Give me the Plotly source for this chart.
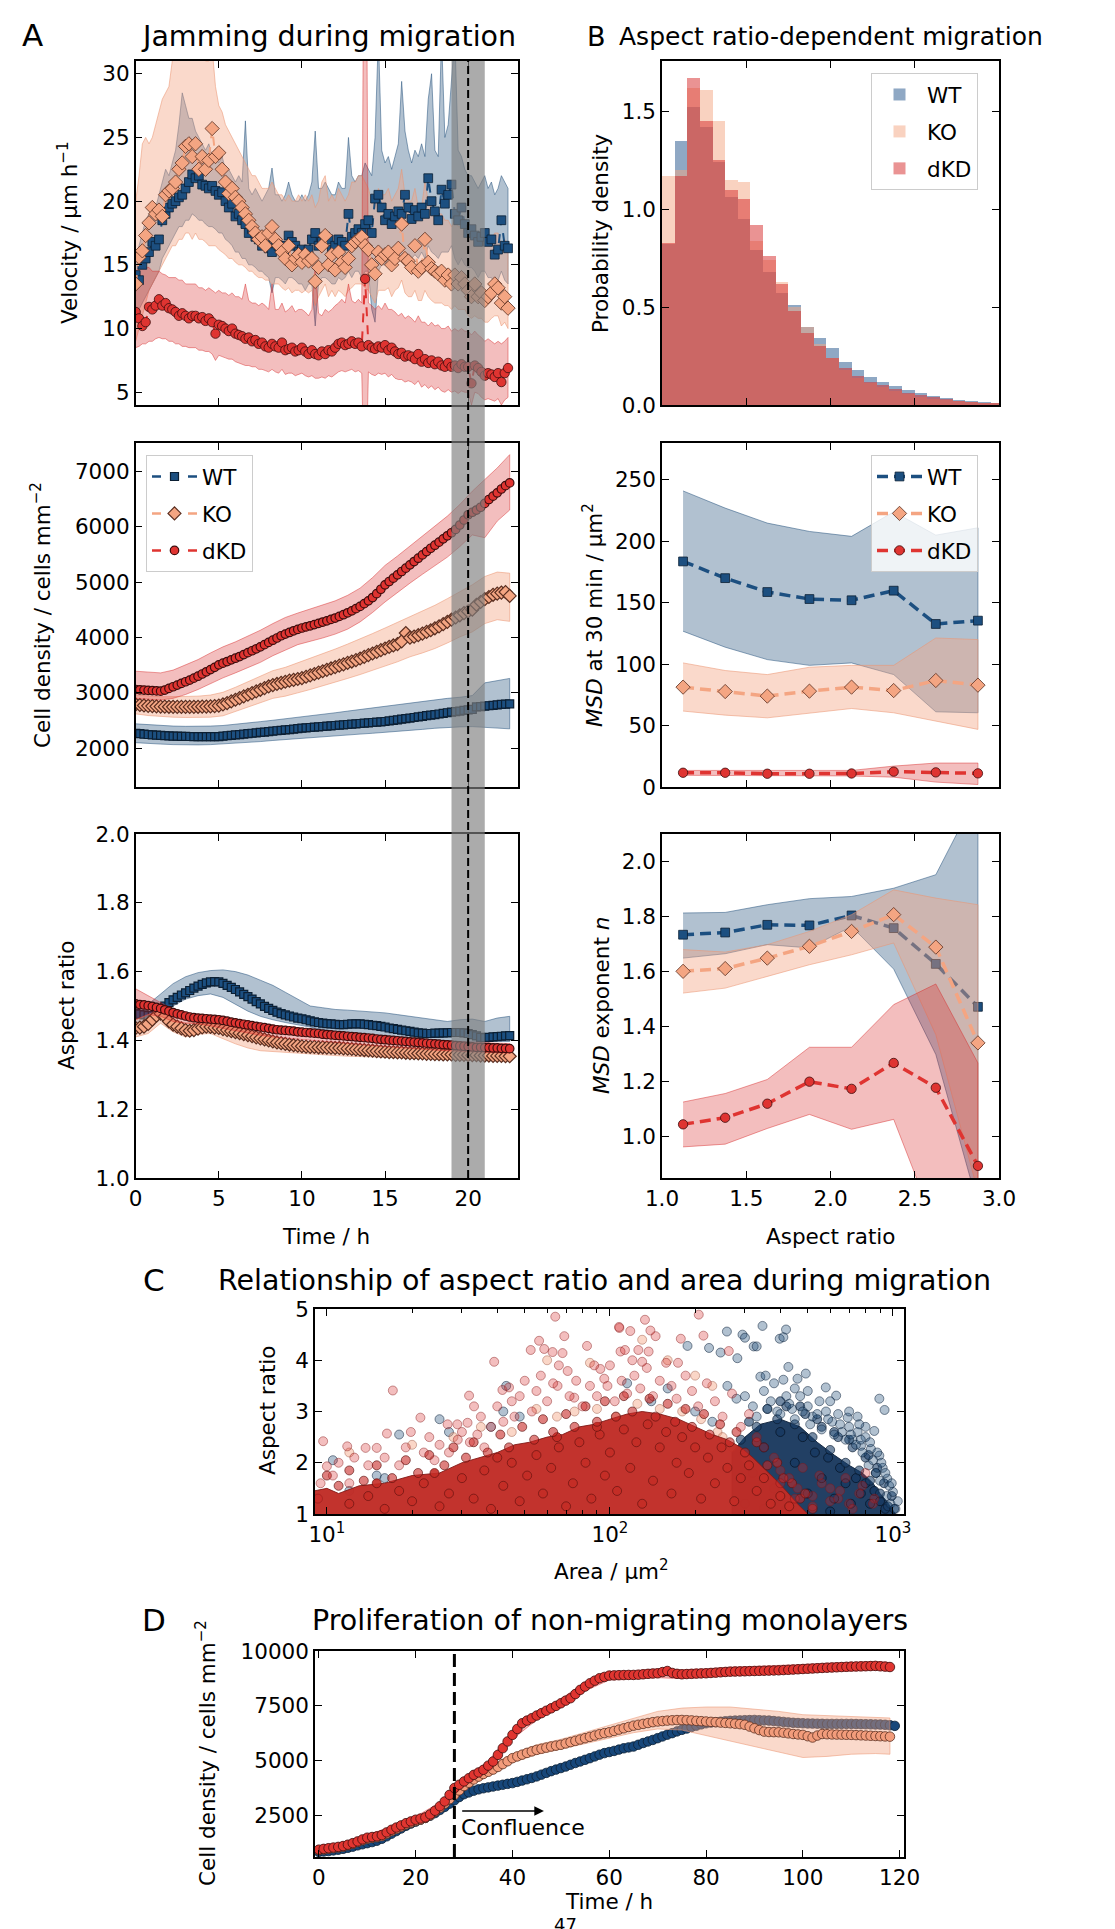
import plotly.graph_objects as go

# ======================= DATA =======================
# ---- Panel A: velocity (um/h), one value every 0.2 h ----
vel_wt = [14.2,13.8,15.0,15.5,16.0,16.8,16.5,17.0,18.5,19.0,
          19.5,19.8,20.0,20.3,20.5,21.0,21.5,22.1,21.8,22.0,
          21.3,21.2,21.0,21.2,20.8,20.5,20.7,20.0,19.5,19.8,
          18.8,19.0,18.5,18.2,17.5,17.8,17.2,17.0,16.5,16.8,
          16.3,16.0,16.8,16.5,16.5,16.2,17.3,16.8,16.5,16.0,
          16.2,15.8,16.2,17.0,17.5,16.5,16.8,17.2,17.0,16.2,
          16.5,17.0,16.8,16.5,19.0,17.2,17.5,17.8,17.5,18.2,
          18.5,17.5,20.2,20.5,19.5,18.5,19.0,18.2,18.8,19.2,
          19.0,20.5,19.5,18.6,19.3,18.8,19.5,19.0,21.8,20.0,
          19.2,18.5,20.9,19.8,20.5,21.3,19.0,18.5,19.5,18.2,
          17.5,17.8,17.3,16.8,17.2,17.5,16.8,17.0,15.8,16.2,
          18.5,16.5,16.3]
vel_wt_hi = [15.5,16.5,17.5,18.5,19.0,19.5,19.5,20.5,21.5,22.5,
             22.0,23.0,24.0,26.0,28.5,27.5,26.5,26.5,25.5,25.0,
             24.5,24.0,24.5,23.5,23.5,23.0,23.5,22.5,22.5,22.0,
             21.5,22.0,21.5,26.3,21.0,20.5,21.0,20.5,20.0,20.5,
             21.0,22.6,20.5,20.5,20.0,20.5,21.5,20.5,20.0,20.0,
             20.5,20.0,20.5,21.5,25.5,21.0,21.0,21.5,21.0,20.5,
             20.5,21.5,21.0,21.0,25.0,22.0,21.5,22.0,22.0,23.0,
             22.5,22.0,25.0,33.0,24.0,23.0,23.5,22.5,23.5,24.5,
             29.4,25.5,24.0,23.0,24.0,23.5,24.5,23.5,28.0,30.0,
             24.0,23.5,33.0,25.0,26.0,29.5,33.0,24.0,23.5,22.5,
             22.0,22.0,21.5,21.0,21.5,22.0,21.0,21.5,20.5,21.0,
             22.0,21.5,21.0]
vel_wt_lo = [11.0,11.5,12.0,12.5,13.0,13.5,14.0,14.5,15.5,16.0,
             16.5,17.0,17.5,18.0,18.0,18.5,18.5,19.0,18.8,18.5,
             18.5,18.2,18.0,18.0,17.8,17.5,17.5,17.0,16.8,16.5,
             16.0,16.0,15.5,15.5,15.0,15.0,14.8,14.5,14.5,14.2,
             14.0,12.8,14.0,14.0,13.8,13.5,14.0,14.0,13.8,13.5,
             13.5,13.0,13.5,13.5,10.2,13.5,14.0,14.0,13.8,13.5,
             13.5,14.0,13.8,14.0,14.5,14.0,14.5,14.5,14.0,14.5,
             14.5,11.5,10.5,14.5,15.0,15.0,15.5,15.0,15.5,15.5,
             15.8,16.0,15.5,15.5,15.8,15.5,16.0,15.5,16.5,16.0,
             15.8,15.5,16.0,16.0,16.0,16.5,15.5,15.0,15.5,15.0,
             14.8,14.8,14.5,14.0,14.5,14.5,14.0,14.0,13.5,13.8,
             14.5,13.8,13.5]
vel_ko = [13.5,15.6,16.1,17.3,18.3,19.5,19.0,19.3,18.8,20.5,
          20.8,21.0,21.5,22.5,23.0,24.3,24.5,23.5,24.5,22.5,
          23.5,22.5,23.2,25.7,23.5,23.8,22.5,21.5,20.6,21.0,
          20.3,20.0,19.5,19.0,18.5,18.0,17.5,17.0,17.2,16.5,
          17.5,18.0,17.0,16.5,16.0,15.5,16.5,15.0,15.5,15.8,
          15.2,15.8,15.3,15.5,13.7,14.8,16.5,17.3,15.0,15.8,
          14.6,16.0,15.2,14.8,15.5,16.5,16.8,17.0,17.2,16.5,
          16.2,15.0,14.3,16.0,15.5,15.8,16.0,15.0,15.5,16.3,
          18.2,15.5,15.3,14.8,16.5,14.5,14.8,17.0,15.2,14.7,
          14.5,14.3,14.5,13.8,14.2,13.5,14.2,13.5,14.0,13.5,
          13.0,12.5,13.5,12.5,12.8,12.2,12.5,12.8,13.5,13.2,
          12.0,12.5,11.6]
vel_ko_hi = [20.0,22.0,24.5,25.0,24.5,25.0,26.0,27.0,28.0,28.5,
             29.0,31.0,32.0,33.0,33.0,32.0,33.0,32.5,33.0,32.0,
             31.5,31.0,31.0,32.0,29.0,27.5,27.0,26.0,25.5,25.0,
             24.5,24.0,23.5,23.0,22.5,22.0,22.0,21.5,21.0,21.0,
             21.0,21.5,21.0,20.5,20.5,20.0,20.5,20.0,20.0,20.5,
             20.0,20.5,20.0,20.5,19.5,20.0,21.5,22.0,20.0,20.5,
             20.0,21.0,20.5,20.0,20.5,21.5,21.5,22.0,22.0,21.5,
             21.0,20.0,19.5,21.0,20.5,20.5,21.0,20.0,20.5,21.0,
             22.5,20.5,20.0,20.0,21.0,19.5,19.5,21.5,20.0,19.5,
             19.0,19.0,19.0,18.5,18.5,18.0,18.5,18.0,18.0,18.0,
             17.5,17.0,17.5,17.0,17.0,16.5,17.0,17.0,17.5,17.5,
             16.5,17.0,16.5]
vel_ko_lo = [9.0,10.0,11.0,12.0,13.0,13.5,14.0,14.5,15.0,15.5,
             16.0,16.5,16.5,17.0,17.0,17.5,17.5,17.0,17.5,17.0,
             17.0,16.8,16.5,16.5,16.5,16.2,16.0,15.8,15.5,15.5,
             15.2,15.0,15.0,14.8,14.5,14.5,14.2,14.0,14.0,13.8,
             13.8,13.5,13.5,13.5,13.2,13.0,13.2,12.8,13.0,13.0,
             12.8,13.0,12.8,13.0,11.8,12.5,13.0,13.5,12.5,13.0,
             12.5,13.0,12.8,12.5,13.0,13.2,13.5,13.5,13.5,13.2,
             13.0,12.5,12.0,13.0,13.0,13.0,13.2,12.5,13.0,13.2,
             13.8,12.8,12.5,12.5,13.0,12.2,12.2,13.0,12.5,12.2,
             12.0,12.0,12.0,11.8,11.8,11.5,11.8,11.5,11.5,11.5,
             11.0,10.8,11.0,10.8,10.8,10.5,10.5,10.8,11.0,11.0,
             10.2,10.5,10.0]
vel_dkd = [11.3,10.8,10.2,10.5,11.7,11.5,11.8,12.3,11.8,12.0,
           11.6,11.5,11.3,11.0,11.2,11.0,10.8,11.0,11.0,10.8,
           10.9,10.6,10.8,10.5,9.6,10.3,10.2,10.0,9.8,10.0,
           9.6,9.5,9.4,9.2,9.3,9.0,9.1,8.8,8.9,8.6,
           8.5,8.8,8.6,8.5,8.9,8.3,8.4,8.5,8.2,8.3,
           8.5,8.2,8.0,8.3,8.0,7.9,8.2,8.0,8.3,8.2,
           8.5,8.8,8.9,8.7,8.8,9.0,8.8,8.9,8.6,13.9,
           8.7,8.5,8.4,8.6,8.5,8.7,8.3,8.5,8.2,8.0,
           8.1,7.8,7.9,7.8,7.6,8.0,7.4,7.6,7.3,7.5,
           7.2,7.4,7.1,7.0,7.3,7.0,7.1,6.9,7.2,7.0,
           7.0,5.7,7.1,6.9,6.6,6.3,6.5,6.4,6.2,6.5,
           5.8,6.5,6.9]
vel_dkd_hi = [14.5,14.8,15.0,14.8,14.8,14.5,14.5,14.5,14.3,14.2,
              14.0,14.0,14.0,13.8,13.8,13.5,13.5,13.5,13.5,13.2,
              13.2,13.0,13.2,13.0,12.8,13.0,12.8,12.8,12.6,12.8,
              12.5,12.5,12.3,13.5,12.2,12.0,12.0,11.8,12.0,11.8,
              11.5,13.5,11.5,11.5,12.0,11.3,11.5,11.8,11.3,11.5,
              11.5,11.3,11.0,11.5,15.0,11.2,11.0,11.5,11.3,11.5,
              11.8,12.0,12.3,12.0,13.5,12.2,12.0,12.3,12.0,60.0,
              12.0,11.8,11.5,11.8,11.5,12.0,11.5,11.5,11.3,11.0,
              11.2,10.8,11.0,10.8,10.5,11.0,10.5,10.5,10.2,10.5,
              10.2,10.3,10.0,10.0,10.2,9.8,10.0,9.8,10.0,9.8,
              9.8,9.5,9.8,9.5,9.3,9.0,9.2,9.0,8.8,9.0,
              8.8,9.0,9.3]
vel_dkd_lo = [8.5,8.6,8.8,8.8,9.0,9.0,9.2,9.3,9.2,9.2,
              9.0,9.0,8.8,8.8,8.6,8.6,8.5,8.5,8.5,8.3,
              8.3,8.2,8.2,8.0,7.5,7.9,7.8,7.7,7.6,7.6,
              7.4,7.3,7.2,7.1,7.1,7.0,7.0,6.8,6.8,6.7,
              6.6,6.8,6.6,6.5,6.8,6.4,6.5,6.5,6.3,6.4,
              6.5,6.3,6.2,6.3,6.1,6.1,6.2,6.1,6.3,6.2,
              6.4,6.6,6.7,6.6,6.7,6.8,6.6,6.7,6.5,-5.0,
              6.6,6.4,6.3,6.5,6.4,6.5,6.2,6.4,6.1,6.0,
              6.0,5.8,5.9,5.8,5.6,5.9,5.4,5.6,5.3,5.5,
              5.2,5.4,5.1,5.0,5.2,5.0,5.1,4.9,5.1,5.0,
              5.0,4.0,5.0,4.9,4.6,4.4,4.5,4.4,4.3,4.5,
              4.0,4.4,4.6]

# ---- Panel A: cell density (cells/mm^2), every 0.25 h ----
den_wt = [2270,2262,2255,2248,2242,2236,2231,2227,2223,2220,
          2217,2215,2213,2212,2211,2210,2210,2210,2210,2210,
          2211,2218,2225,2232,2240,2247,2255,2262,2270,2277,
          2285,2292,2300,2307,2315,2322,2330,2337,2345,2352,
          2362,2368,2374,2380,2386,2392,2398,2404,2410,2416,
          2422,2428,2434,2440,2446,2452,2458,2464,2470,2476,
          2482,2492,2503,2513,2524,2534,2545,2555,2566,2576,
          2587,2597,2608,2618,2629,2640,2650,2661,2671,2682,
          2693,2700,2745,2752,2760,2767,2775,2782,2790,2796,
          2801]
den_ko = [2790,2780,2772,2765,2760,2756,2752,2750,2748,2747,
          2746,2746,2746,2746,2747,2748,2750,2752,2755,2760,
          2768,2790,2815,2845,2875,2905,2935,2965,2995,3025,
          3055,3085,3115,3140,3160,3180,3200,3220,3235,3250,
          3265,3290,3315,3340,3365,3390,3415,3440,3465,3490,
          3515,3540,3565,3590,3620,3650,3680,3710,3740,3770,
          3800,3830,3855,3880,3930,4080,3995,4015,4040,4070,
          4100,4130,4165,4200,4240,4280,4320,4360,4400,4440,
          4470,4500,4590,4640,4690,4730,4770,4790,4810,4820,
          4750]
den_dkd = [3060,3055,3050,3045,3040,3035,3030,3050,3080,3110,
           3140,3170,3200,3230,3265,3300,3340,3380,3420,3460,
           3505,3535,3565,3595,3625,3655,3690,3725,3760,3795,
           3830,3870,3910,3950,3990,4030,4060,4090,4120,4145,
           4170,4190,4210,4232,4255,4278,4300,4325,4350,4380,
           4410,4445,4480,4520,4560,4610,4660,4720,4790,4870,
           4950,5010,5070,5130,5190,5250,5310,5370,5430,5490,
           5550,5610,5665,5720,5780,5835,5890,5950,6030,6120,
           6215,6260,6300,6350,6420,6490,6550,6610,6680,6740,
           6790]
# density bands, every 0.75 h
den_wt_hi = [2440,2425,2410,2400,2395,2395,2400,2410,2430,2455,2480,2505,2530,2560,2590,2615,
             2640,2670,2700,2730,2760,2790,2820,2850,2880,2900,2920,2950,3180,3220,3260]
den_wt_lo = [2100,2090,2075,2065,2060,2060,2065,2075,2090,2105,2120,2140,2160,2180,2195,2210,
             2225,2240,2255,2270,2285,2300,2320,2340,2360,2375,2385,2390,2370,2360,2350]
den_ko_hi = [2960,2940,2930,2930,2935,2940,2960,3010,3100,3200,3300,3400,3460,3540,3620,3700,
             3790,3880,3970,4070,4170,4270,4380,4470,4580,4700,4830,4950,5100,5180,5160]
den_ko_lo = [2620,2590,2570,2560,2555,2555,2560,2585,2660,2740,2820,2900,2940,3000,3060,3120,
             3190,3260,3330,3400,3480,3560,3650,3720,3800,3900,4010,4100,4250,4320,4290]
den_dkd_hi = [3390,3370,3360,3410,3500,3600,3720,3830,3920,4020,4130,4250,4360,4440,4510,4580,
              4660,4760,4890,5080,5300,5470,5650,5830,6010,6190,6400,6640,6850,7060,7300]
den_dkd_lo = [2900,2880,2870,2900,2970,3060,3160,3270,3360,3450,3550,3670,3770,3870,3930,3990,
              4060,4150,4280,4450,4640,4810,4980,5140,5300,5450,5640,5850,5800,6100,6300]

# ---- Panel A: aspect ratio, every 0.25 h ----
ar_wt = [1.478,1.476,1.474,1.472,1.472,1.480,1.490,1.500,1.510,1.518,
         1.525,1.532,1.538,1.545,1.552,1.558,1.563,1.567,1.570,1.571,
         1.570,1.566,1.560,1.554,1.548,1.541,1.534,1.527,1.520,1.513,
         1.506,1.499,1.493,1.487,1.482,1.478,1.474,1.471,1.468,1.465,
         1.463,1.460,1.457,1.454,1.452,1.450,1.449,1.448,1.447,1.446,
         1.446,1.447,1.448,1.448,1.448,1.447,1.446,1.444,1.443,1.441,
         1.439,1.436,1.434,1.432,1.430,1.428,1.426,1.424,1.422,1.421,
         1.420,1.420,1.421,1.421,1.422,1.422,1.423,1.423,1.423,1.422,
         1.420,1.417,1.413,1.409,1.408,1.409,1.410,1.411,1.412,1.413,
         1.414]
ar_dkd = [1.506,1.504,1.503,1.501,1.499,1.496,1.493,1.489,1.485,1.481,
          1.477,1.474,1.471,1.468,1.466,1.465,1.464,1.463,1.462,1.461,
          1.460,1.458,1.456,1.453,1.451,1.449,1.447,1.445,1.443,1.441,
          1.439,1.437,1.435,1.433,1.431,1.430,1.429,1.428,1.427,1.425,
          1.424,1.423,1.422,1.421,1.420,1.418,1.417,1.416,1.415,1.414,
          1.413,1.412,1.411,1.410,1.409,1.408,1.407,1.406,1.404,1.403,
          1.402,1.401,1.400,1.399,1.398,1.397,1.396,1.395,1.394,1.393,
          1.392,1.391,1.390,1.389,1.388,1.387,1.386,1.385,1.384,1.383,
          1.382,1.381,1.380,1.380,1.379,1.379,1.378,1.378,1.377,1.377,
          1.376]
ar_ko = [1.436,1.437,1.440,1.448,1.460,1.472,1.478,1.470,1.455,1.446,
         1.440,1.435,1.430,1.428,1.430,1.434,1.438,1.440,1.439,1.437,
         1.436,1.433,1.430,1.427,1.424,1.421,1.418,1.415,1.412,1.409,
         1.406,1.403,1.400,1.397,1.394,1.392,1.390,1.388,1.386,1.385,
         1.383,1.382,1.381,1.381,1.380,1.380,1.379,1.379,1.378,1.378,
         1.377,1.376,1.375,1.374,1.373,1.372,1.371,1.370,1.369,1.368,
         1.367,1.366,1.366,1.365,1.365,1.364,1.363,1.363,1.362,1.362,
         1.361,1.361,1.360,1.360,1.359,1.359,1.359,1.358,1.358,1.358,
         1.357,1.357,1.357,1.356,1.356,1.356,1.355,1.355,1.355,1.354,
         1.354]
# aspect-ratio bands, every 0.75 h
ar_wt_hi = [1.494,1.505,1.535,1.565,1.585,1.597,1.603,1.605,1.600,1.590,1.575,1.560,1.540,1.520,1.500,1.495,
            1.490,1.488,1.486,1.484,1.480,1.475,1.470,1.465,1.458,1.455,1.460,1.462,1.455,1.465,1.470]
ar_wt_lo = [1.446,1.450,1.465,1.500,1.520,1.530,1.535,1.525,1.505,1.485,1.470,1.460,1.452,1.445,1.438,1.432,
            1.426,1.421,1.417,1.413,1.410,1.407,1.405,1.402,1.400,1.398,1.397,1.396,1.396,1.397,1.397]
ar_dkd_hi = [1.550,1.530,1.510,1.490,1.478,1.472,1.468,1.462,1.455,1.449,1.443,1.438,1.434,1.431,1.428,1.425,
             1.422,1.419,1.416,1.413,1.410,1.407,1.404,1.402,1.400,1.398,1.396,1.394,1.393,1.392,1.391]
ar_dkd_lo = [1.460,1.475,1.470,1.455,1.450,1.448,1.442,1.435,1.428,1.421,1.415,1.410,1.406,1.403,1.400,1.397,
             1.394,1.391,1.388,1.385,1.382,1.379,1.376,1.374,1.372,1.370,1.368,1.366,1.365,1.364,1.363]
ar_ko_hi = [1.460,1.475,1.490,1.462,1.450,1.455,1.452,1.440,1.425,1.412,1.402,1.396,1.392,1.389,1.387,1.385,
            1.383,1.381,1.379,1.377,1.375,1.373,1.372,1.371,1.370,1.369,1.368,1.367,1.366,1.365,1.364]
ar_ko_lo = [1.410,1.420,1.450,1.425,1.410,1.418,1.420,1.405,1.390,1.378,1.370,1.366,1.364,1.362,1.360,1.358,
            1.356,1.354,1.352,1.350,1.349,1.348,1.347,1.346,1.345,1.344,1.343,1.342,1.342,1.341,1.340]

# ---- Panel B: aspect-ratio histogram (probability density), bins of 0.075 from 1.0 ----
hist_wt = [0.82,1.35,1.52,1.42,1.24,1.06,0.95,0.79,0.68,0.57,0.51,0.40,0.34,0.29,0.22,0.18,
           0.145,0.12,0.095,0.075,0.06,0.045,0.035,0.028,0.02,0.015,0.01]
hist_ko = [1.17,1.20,1.62,1.61,1.45,1.15,1.14,0.84,0.74,0.63,0.50,0.40,0.31,0.24,0.18,0.14,
           0.11,0.09,0.07,0.055,0.04,0.03,0.025,0.02,0.015,0.01,0.008]
hist_dkd = [0.83,1.17,1.67,1.45,1.25,1.10,1.05,0.92,0.76,0.62,0.48,0.37,0.30,0.24,0.19,0.15,
            0.12,0.10,0.08,0.06,0.05,0.04,0.03,0.02,0.015,0.01,0.008]

# ---- Panel B: MSD vs aspect ratio ----
ar_centers = [1.125, 1.375, 1.625, 1.875, 2.125, 2.375, 2.625, 2.875]
msd_wt = [183.6,170.0,158.7,153.0,152.0,159.8,132.7,135.4]
msd_wt_hi = [241,227,214.8,208,204,224,205,211]
msd_wt_lo = [126.8,113.8,103.7,99,101,91.5,61.2,60.4]
msd_ko = [81.3,77.7,74.0,78.0,81.3,78.5,86.7,82.9]
msd_ko_hi = [101,94.8,91.5,97.5,99,99,121.3,120]
msd_ko_lo = [61.8,58.5,56.3,59.9,63.9,60.4,53.6,46.9]
msd_dkd = [11.6,11.6,10.8,10.8,11.0,12.5,11.9,11.1]
msd_dkd_hi = [13.5,13.5,13.0,13.0,13.5,17.0,19.5,19.5]
msd_dkd_lo = [9.5,9.5,9.0,9.0,9.0,8.0,4.0,2.0]

exp_wt = [1.734,1.742,1.770,1.768,1.804,1.758,1.628,1.472]
exp_wt_hi = [1.813,1.815,1.843,1.865,1.873,1.903,1.952,2.25]
exp_wt_lo = [1.649,1.665,1.698,1.686,1.764,1.609,1.299,0.75]
exp_ko = [1.601,1.611,1.649,1.692,1.746,1.807,1.689,1.341]
exp_ko_hi = [1.680,1.671,1.698,1.746,1.807,1.897,1.867,1.843]
exp_ko_lo = [1.522,1.540,1.583,1.625,1.661,1.704,1.371,0.80]
exp_dkd = [1.045,1.069,1.120,1.200,1.174,1.268,1.178,0.894]
exp_dkd_hi = [1.126,1.157,1.208,1.325,1.325,1.480,1.555,1.268]
exp_dkd_lo = [0.963,0.973,1.030,1.081,1.027,1.063,0.670,0.50]

# ---- Panel C: aspect ratio vs area ----
c_wt_core_area = [270,270,300,340,400,470,540,620,700,780,850,900,950,1000,1020]
c_wt_core_ar = [1.0,2.2,2.5,2.75,2.85,2.7,2.4,2.15,1.95,1.8,1.6,1.4,1.25,1.05,1.0]
c_dkd_core_area = [9.0,9.0,10,11,13,16,20,25,30,35,40,46,52,60,68,78,88,100,115,130,150,175,
                   200,230,260,290,320,350,380,420,460,500]
c_dkd_core_ar = [1.0,1.45,1.5,1.4,1.55,1.6,1.75,1.8,2.0,2.1,2.2,2.35,2.4,2.5,2.55,2.7,2.75,2.85,
                 2.95,3.0,2.95,2.85,2.7,2.55,2.45,2.3,2.1,1.9,1.7,1.45,1.2,1.0]
c_wt_inner_area = [300,320,350,380,400,420,450,480,500,530,560,590,620,650,680,710,740,770,800,
                   830,860,900,940,350,600]
c_wt_inner_ar = [1.2,1.8,2.3,1.5,2.6,1.1,2.0,2.5,1.4,2.2,1.7,2.1,1.3,1.9,1.6,1.2,1.7,1.4,1.6,
                 1.2,1.45,1.25,1.1,1.1,1.05]
c_wt_edge_area = [290,310,330,360,390,420,450,490,520,560,600,640,680,720,760,800,830,870,900,
                  930,960,990,1010,880,820,700,620,540,470,400]
c_wt_edge_ar = [2.45,2.8,2.7,3.05,2.85,3.1,2.75,2.95,2.5,2.7,2.25,2.5,2.0,2.3,1.85,2.1,1.65,1.8,
                1.4,1.6,1.15,1.35,1.1,1.9,2.15,2.45,2.6,2.85,3.1,3.2]
c_dkd_inner_area = [12,14,16,18,20,22,25,27,30,33,36,38,42,45,48,51,55,58,62,66,70,74,78,82,86,
                    92,96,100,106,112,118,124,130,136,142,150,158,165,172,180,190,200,210,222,
                    235,248,260,275,290,310,330,350,370,400,430,15,24,40,65,90]
c_dkd_inner_ar = [1.2,1.35,1.1,1.45,1.25,1.6,1.15,1.4,1.7,1.3,1.85,1.1,1.55,2.0,1.25,1.75,2.15,
                  1.4,1.9,2.3,1.15,1.6,2.4,2.0,1.3,2.55,1.75,2.2,1.45,2.65,1.9,2.4,1.2,2.75,1.65,
                  2.3,2.6,1.4,2.0,2.5,1.8,2.3,1.3,2.1,1.6,2.3,1.9,1.25,1.7,1.95,1.45,1.7,1.2,
                  1.35,1.15,1.6,1.8,2.1,2.5,2.7]
c_dkd_edge_area = [10,11,12,13.5,15,17,19,21,23,26,28,31,33,37,41,44,49,54,58,63,70,75,82,90,96,
                   105,112,120,138,145,160,170,185,195,215,225,245,265,280,300,330,360,390,410,
                   440,470,490,520]
c_dkd_edge_ar = [1.75,1.55,1.85,1.65,1.95,1.7,2.05,1.8,2.15,1.95,2.3,2.1,2.4,2.2,2.55,2.3,2.7,
                 2.45,2.85,2.6,2.95,2.7,3.1,2.8,3.2,2.9,3.3,3.0,3.25,2.9,3.15,2.8,3.05,2.7,2.95,
                 2.55,2.75,2.4,2.6,2.2,2.4,1.95,2.0,1.7,1.6,1.3,1.4,1.1]
c_wt_area = [259,294,300,322,330,346,224,246,282,188,398,410,419,427,340,355,380,410,460,492,
             579,630,692,895,934,859,771,836,895,955,1000,
             300,320,350,370,390,420,440,470,500,520,550,580,610,640,660,700,720,750,780,800,
             820,850,870,900,920,950,980,1020,15,16,18,12,10.5,25,27,38,42,43,48,115,140,160,
             200,230,260,280,
             330,360,400,430,450,480,510,540,560,590,620,650,680,710,740,770,600,500,450,700,
             750,800,830,880,760,940,970,1040,990,910]
c_wt_ar = [4.56,4.5,4.44,4.27,4.27,4.67,4.24,4.15,4.04,4.28,4.42,4.45,4.6,3.87,3.68,3.7,3.55,
           3.62,3.64,3.74,3.47,3.31,2.88,3.25,3.03,2.62,2.33,2.27,2.14,1.69,1.43,
           3.3,3.1,3.4,3.2,3.0,3.3,3.05,3.3,3.1,2.9,3.2,3.0,2.8,2.95,2.6,2.7,2.45,2.6,2.2,2.5,
           1.95,2.05,1.8,1.65,1.9,1.35,1.2,1.1,1.75,1.7,2.55,1.45,2.05,2.85,2.6,2.7,3.0,3.5,2.9,
           3.55,3.2,3.45,3.0,2.8,3.5,3.25,
           2.9,3.05,2.95,3.15,2.85,3.0,2.75,2.95,2.65,2.85,2.55,2.75,2.45,2.55,2.35,2.45,3.2,
           3.4,3.45,3.0,2.9,2.7,2.4,2.2,2.75,1.8,1.55,1.25,1.6,2.0]
c_ko_area = [12,20,28,35,45,55,65,75,90,105,125,150,180,210,240,60,85,130,160,200,230,250,270,300]
c_ko_ar = [2.2,2.35,2.5,2.7,2.6,3.05,2.9,3.0,3.05,2.9,3.15,3.05,3.0,2.85,2.6,4.0,3.95,4.4,4.0,
           3.7,3.5,2.5,2.3,2.1]
c_dkd_area = [9.7,10,11.8,13.7,15,17.1,16.3,19.8,21.4,26.7,28.9,31.4,31.8,33.1,39,41.7,44,52.5,
              56.2,58.6,62.7,64.1,68,69,65.3,70.9,74.8,83,92.5,95.5,108,109,107.7,118,133,139,
              145,113,126,137,206,214,178,174,263,130,120,
              10.5,11,12,12.5,14,16,18,19,22,23,24,25,27,29,30,32,34,35,36,38,40,42,45,46,48,50,
              53,55,57,60,63,66,72,76,80,85,88,90,98,100,104,110,115,122,128,135,142,150,158,165,
              172,185,195,205,220,235,250,270,290,310,330,350,380,400,430,460,520,560,600,650,
              700,780,860,9.3,9.5,
              400,450,480,520,550,600,640,680,720,760,800,850]
c_dkd_ar = [2.42,1.93,2.32,2.29,2.29,3.41,2.57,2.6,2.88,2.75,2.75,2.78,3.31,3.1,3.97,3.42,3.47,
            4.2,4.38,4.22,4.16,4.85,4.14,4.47,3.5,3.79,3.27,4.28,3.83,3.64,4.63,4.17,4.65,4.57,
            4.79,4.58,4.47,4.2,4.2,4.17,4.89,4.48,4.42,3.95,4.18,3.97,4.0,
            1.75,2.0,1.6,2.1,1.95,2.1,1.95,2.3,2.2,2.5,2.05,2.35,2.2,2.45,2.6,2.4,2.55,2.9,2.3,
            2.7,3.1,2.8,3.2,2.9,3.3,3.6,3.0,3.4,3.7,3.2,3.55,3.9,3.3,3.6,3.1,3.5,3.9,3.3,3.5,
            3.9,3.2,3.6,3.35,3.7,3.45,3.85,3.3,3.6,3.95,3.5,3.25,3.7,3.4,3.1,3.55,3.2,2.9,3.35,
            2.7,2.95,2.5,2.3,2.1,1.85,1.7,1.5,1.35,1.6,1.25,1.45,1.2,1.55,1.3,1.3,1.6,
            1.6,1.3,1.9,1.15,1.75,1.5,1.3,1.7,1.1,1.4,1.8,1.2]
c_minor_ticks = [20,30,40,50,60,70,80,90,200,300,400,500,600,700,800,900]

# ---- Panel D: proliferation (cells/mm^2), every 1 h ----
prol_dkd = [955,990,1020,1050,1080,1120,1180,1250,1330,1420,
            1500,1530,1560,1620,1740,1860,1960,2060,2160,2240,
            2318,2370,2424,2560,2727,2930,3150,3450,3760,3910,
            4060,4210,4360,4470,4590,4780,4970,5270,5575,5880,
            6180,6450,6710,6830,6940,7060,7170,7280,7390,7500,
            7620,7740,7850,8040,8230,8380,8530,8650,8760,8820,
            8880,8890,8900,8905,8910,8910,8920,8940,8960,8975,
            8985,9040,9090,9000,8960,8940,8950,8960,8970,8980,
            8985,9000,9015,9030,9045,9060,9066,9072,9078,9084,
            9090,9096,9102,9108,9114,9120,9132,9144,9156,9168,
            9180,9192,9204,9216,9228,9240,9250,9260,9270,9280,
            9290,9296,9302,9308,9314,9320,9305,9290,9270]
prol_ko = [930,960,990,1020,1050,1090,1150,1220,1300,1380,
           1450,1490,1520,1570,1680,1800,1900,2000,2100,2180,
           2260,2320,2400,2520,2680,2860,3050,3250,3450,3650,
           3850,4000,4150,4280,4400,4500,4600,4720,4850,4980,
           5120,5200,5280,5360,5430,5500,5550,5600,5650,5690,
           5730,5790,5850,5910,5970,6030,6090,6150,6210,6260,
           6300,6360,6420,6480,6540,6600,6640,6680,6720,6760,
           6790,6810,6830,6845,6855,6860,6850,6840,6820,6805,
           6790,6775,6760,6740,6725,6710,6690,6670,6640,6560,
           6480,6400,6330,6310,6305,6300,6280,6250,6220,6200,
           6180,6120,6060,6150,6220,6210,6200,6195,6190,6185,
           6180,6170,6160,6150,6140,6130,6120,6110,6100]
prol_wt = [850,870,890,920,950,990,1040,1090,1150,1200,
           1250,1300,1360,1450,1560,1680,1800,1920,2040,2140,
           2230,2320,2400,2500,2620,2760,2900,3050,3200,3350,
           3480,3560,3640,3700,3750,3790,3830,3870,3910,3950,
           3985,4040,4100,4160,4220,4290,4370,4450,4530,4600,
           4670,4740,4820,4900,4970,5045,5120,5200,5280,5350,
           5400,5450,5510,5570,5610,5650,5730,5810,5880,5950,
           6030,6110,6190,6260,6340,6410,6470,6540,6600,6660,
           6710,6740,6760,6780,6800,6820,6830,6840,6850,6855,
           6860,6850,6840,6830,6810,6790,6770,6750,6730,6720,
           6710,6700,6695,6690,6685,6680,6680,6680,6680,6680,
           6680,6675,6670,6665,6660,6655,6650,6640,6620,6590]
prol_band_t = [0,5,10,15,20,25,30,35,40,45,50,55,60,65,70,75,80,85,90,95,100,105,110,115,118]
prol_dkd_hi = [1075,1250,1630,2000,2460,3100,4240,4970,6380,7260,7820,8580,9080,9110,9190,9150,
               9190,9270,9300,9330,9390,9450,9500,9530,9480]
prol_dkd_lo = [835,990,1370,1720,2180,2770,3880,4590,5980,6860,7420,8180,8680,8710,8785,8740,
               8785,8860,8890,8920,8980,9040,9090,9120,9070]
prol_ko_hi = [1050,1210,1570,1930,2400,3010,4020,4700,5330,5730,5980,6300,6600,6950,7250,7400,
              7450,7450,7350,7250,7100,7050,7000,6980,6950]
prol_ko_lo = [820,980,1340,1680,2130,2720,3690,4320,4920,5280,5500,5780,6030,6280,6450,6400,
              6150,5900,5650,5400,5150,5200,5300,5330,5300]
prol_wt_hi = [950,1090,1350,1780,2330,2880,3600,3910,4110,4420,4800,5180,5540,5800,6180,6560,
              6860,6970,7000,6930,6850,6820,6820,6800,6740]
prol_wt_lo = [760,900,1160,1590,2140,2650,3370,3680,3870,4170,4550,4920,5270,5510,5890,6270,
              6570,6680,6720,6650,6570,6540,6540,6520,6450]
d_ticks = [2500, 5000, 7500, 10000]

# sampling grids
t_vel = [round(0.2 * i, 3) for i in range(len(vel_wt))]
t_den = [0.25 * i for i in range(len(den_wt))]
t_band = [0.75 * i for i in range(len(den_wt_hi))]
t_prol_wt = list(range(len(prol_wt)))
t_prol_ko = list(range(len(prol_ko)))
t_prol_dkd = list(range(len(prol_dkd)))
hist_centers = [1.0 + 0.075 * (i + 0.5) for i in range(len(hist_wt))]

# ======================= STYLE =======================
W, H = 1115, 1929
FONT = "DejaVu Sans"
FS = 21.5


def px(x):
    return x / W


def py(y):
    return 1 - y / H


WT_C, KO_C, DKD_C = "#1c4f80", "#f4a582", "#df3431"
WT_E, KO_E, DKD_E = "#0b1f33", "#5a2e20", "#3d0c0c"
BANDS = {
    "WT": ("rgba(31,78,121,0.35)", "rgba(31,78,121,0.5)"),
    "KO": ("rgba(244,165,130,0.42)", "rgba(235,150,115,0.55)"),
    "dKD": ("rgba(214,39,40,0.30)", "rgba(214,39,40,0.45)"),
}
STY = {
    "WT": dict(color=WT_C, edge=WT_E, symbol="square"),
    "KO": dict(color=KO_C, edge=KO_E, symbol="diamond"),
    "dKD": dict(color=DKD_C, edge=DKD_E, symbol="circle"),
}
SIZE = {"WT": 8, "KO": 10, "dKD": 8.5}

fig = go.Figure()


def add_band(x, hi, lo, key, xa, ya):
    n = min(len(x), len(hi), len(lo))
    xs = list(x[:n]) + list(x[:n])[::-1]
    ys = list(hi[:n]) + list(lo[:n])[::-1]
    fill, line = BANDS[key]
    fig.add_trace(go.Scatter(x=xs, y=ys, mode="lines", fill="toself", fillcolor=fill,
                             line=dict(color=line, width=1), hoverinfo="skip",
                             showlegend=False, xaxis=xa, yaxis=ya))


def add_series(x, y, key, xa, ya, legend=None, size_scale=1.0, lw=2, dash="dash",
               mode="lines+markers", edge_w=0.8):
    n = min(len(x), len(y))
    s = STY[key]
    fig.add_trace(go.Scatter(
        x=list(x[:n]), y=list(y[:n]), mode=mode, name=key,
        line=dict(color=s["color"], width=lw, dash=dash),
        marker=dict(symbol=s["symbol"], size=SIZE[key] * size_scale, color=s["color"],
                    line=dict(color=s["edge"], width=edge_w)),
        showlegend=legend is not None, legend=legend if legend else "legend",
        legendgroup=f"{legend}-{key}", xaxis=xa, yaxis=ya))


# ---- A: velocity (bands first, then markers) ----
vel_sets = [("WT", vel_wt, vel_wt_hi, vel_wt_lo),
            ("KO", vel_ko, vel_ko_hi, vel_ko_lo),
            ("dKD", vel_dkd, vel_dkd_hi, vel_dkd_lo)]
for key, m, hi, lo in vel_sets:
    add_band(t_vel, hi, lo, key, "x", "y")
for key, m, hi, lo in vel_sets:
    add_series(t_vel, m, key, "x", "y", size_scale=1.1)

# ---- A: density ----
for key, m, hi, lo in [("WT", den_wt, den_wt_hi, den_wt_lo),
                       ("KO", den_ko, den_ko_hi, den_ko_lo),
                       ("dKD", den_dkd, den_dkd_hi, den_dkd_lo)]:
    add_band(t_band, hi, lo, key, "x2", "y2")
    add_series(t_den, m, key, "x2", "y2", legend="legend", lw=2.5, edge_w=1.2)

# ---- A: aspect ratio ----
for key, m, hi, lo in [("WT", ar_wt, ar_wt_hi, ar_wt_lo),
                       ("KO", ar_ko, ar_ko_hi, ar_ko_lo),
                       ("dKD", ar_dkd, ar_dkd_hi, ar_dkd_lo)]:
    add_band(t_band, hi, lo, key, "x3", "y3")
    add_series(t_den, m, key, "x3", "y3", edge_w=1.2)

# ---- B: histogram ----
for key, h, col in [("WT", hist_wt, "rgba(31,81,137,0.5)"),
                    ("KO", hist_ko, "rgba(244,165,130,0.5)"),
                    ("dKD", hist_dkd, "rgba(214,39,40,0.5)")]:
    fig.add_trace(go.Bar(x=hist_centers, y=h, width=0.075, name=key,
                         marker=dict(color=col, line=dict(width=0)),
                         legend="legend2", legendgroup=f"h-{key}",
                         xaxis="x4", yaxis="y4"))

# ---- B: MSD ----
for key, m, hi, lo in [("WT", msd_wt, msd_wt_hi, msd_wt_lo),
                       ("KO", msd_ko, msd_ko_hi, msd_ko_lo),
                       ("dKD", msd_dkd, msd_dkd_hi, msd_dkd_lo)]:
    add_band(ar_centers, hi, lo, key, "x5", "y5")
    add_series(ar_centers, m, key, "x5", "y5", legend="legend3", size_scale=1.1, lw=3.5,
               dash="11px,6px")

# ---- B: MSD exponent ----
for key, m, hi, lo in [("WT", exp_wt, exp_wt_hi, exp_wt_lo),
                       ("KO", exp_ko, exp_ko_hi, exp_ko_lo),
                       ("dKD", exp_dkd, exp_dkd_hi, exp_dkd_lo)]:
    add_band(ar_centers, hi, lo, key, "x6", "y6")
    add_series(ar_centers, m, key, "x6", "y6", size_scale=1.1, lw=3.5, dash="11px,6px")


# ---- C: scatter ----
def c_points(a, r, fill, edge, size=9):
    n = min(len(a), len(r))
    fig.add_trace(go.Scatter(x=a[:n], y=r[:n], mode="markers", showlegend=False,
                             marker=dict(size=size, color=fill, line=dict(color=edge, width=0.8)),
                             xaxis="x7", yaxis="y7"))


def c_poly(a, r, fill, edge):
    n = min(len(a), len(r))
    fig.add_trace(go.Scatter(x=a[:n], y=r[:n], mode="lines", fill="toself", fillcolor=fill,
                             line=dict(color=edge, width=1), showlegend=False,
                             hoverinfo="skip", xaxis="x7", yaxis="y7"))


c_poly(c_wt_core_area, c_wt_core_ar, "rgba(22,54,92,0.95)", "rgba(10,30,55,0.9)")
c_points(c_wt_inner_area, c_wt_inner_ar, "rgba(24,58,98,0.9)", "rgba(5,18,35,0.9)")
c_points(c_wt_edge_area, c_wt_edge_ar, "rgba(25,62,104,0.6)", "rgba(8,25,45,0.8)")
c_points(c_wt_area, c_wt_ar, "rgba(31,78,121,0.35)", "rgba(12,32,58,0.65)")
c_points(c_ko_area, c_ko_ar, "rgba(244,165,130,0.45)", "rgba(150,80,60,0.55)")
c_poly(c_dkd_core_area, c_dkd_core_ar, "rgba(192,44,38,0.97)", "rgba(130,25,22,0.9)")
c_points(c_dkd_inner_area, c_dkd_inner_ar, "rgba(196,44,38,0.9)", "rgba(100,18,15,0.85)")
c_points(c_dkd_edge_area, c_dkd_edge_ar, "rgba(200,42,38,0.6)", "rgba(90,15,12,0.8)")
c_points(c_dkd_area, c_dkd_ar, "rgba(214,39,40,0.3)", "rgba(130,20,20,0.55)")

# ---- D: proliferation ----
for key, t, m, hi, lo, col in [
        ("WT", t_prol_wt, prol_wt, prol_wt_hi, prol_wt_lo, "#17477a"),
        ("KO", t_prol_ko, prol_ko, prol_ko_hi, prol_ko_lo, "#f29c7b"),
        ("dKD", t_prol_dkd, prol_dkd, prol_dkd_hi, prol_dkd_lo, "#e03530")]:
    add_band(prol_band_t, hi, lo, key, "x8", "y8")
    nn = min(len(t), len(m))
    fig.add_trace(go.Scatter(x=t[:nn], y=m[:nn], mode="markers", showlegend=False,
                             marker=dict(symbol="circle", size=9.5, color=col,
                                         line=dict(color=STY[key]["edge"], width=0.8)),
                             xaxis="x8", yaxis="y8"))


# ======================= AXES =======================
def axis(domain, rng, anchor, **kw):
    d = dict(domain=domain, range=rng, anchor=anchor, showline=True, linecolor="black",
             linewidth=1.5, mirror="allticks", ticks="inside", ticklen=7, tickwidth=1.3,
             tickcolor="black", showgrid=False, zeroline=False, automargin=False,
             tickfont=dict(family=FONT, size=FS, color="black"))
    d.update(kw)
    return d


XL = [px(127.7), px(510)]
XR = [px(654), px(991)]
R1 = [py(397), py(53)]
R2 = [py(779), py(435)]
R3 = [py(1170), py(826)]
XC = [px(307), px(896)]
YC = [py(1506), py(1301)]
YD = [py(1849), py(1643)]

layout_axes = dict(
    xaxis=axis(XL, [0, 23], "y", dtick=5, tick0=0, showticklabels=False),
    yaxis=axis(R1, [4, 31], "x", dtick=5, tick0=0),
    xaxis2=axis(XL, [0, 23], "y2", dtick=5, tick0=0, showticklabels=False),
    yaxis2=axis(R2, [1300, 7510], "x2", dtick=1000, tick0=0),
    xaxis3=axis(XL, [0, 23], "y3", dtick=5, tick0=0),
    yaxis3=axis(R3, [1.0, 2.0], "x3", dtick=0.2, tick0=0, tickformat=".1f"),
    xaxis4=axis(XR, [1, 3], "y4", dtick=0.5, tick0=0, showticklabels=False),
    yaxis4=axis(R1, [0, 1.757], "x4", dtick=0.5, tick0=0, tickformat=".1f"),
    xaxis5=axis(XR, [1, 3], "y5", dtick=0.5, tick0=0, showticklabels=False),
    yaxis5=axis(R2, [0, 280], "x5", dtick=50, tick0=0),
    xaxis6=axis(XR, [1, 3], "y6", dtick=0.5, tick0=0, tickformat=".1f"),
    yaxis6=axis(R3, [0.85, 2.1], "x6", tickvals=[1.0, 1.2, 1.4, 1.6, 1.8, 2.0], tickformat=".1f"),
    xaxis7=axis(XC, [0.958, 3.039], "y7", type="log", tickvals=[10, 100, 1000],
                ticktext=["10<sup>1</sup>", "10<sup>2</sup>", "10<sup>3</sup>"],
                minor=dict(tickmode="array", tickvals=c_minor_ticks, ticks="inside", ticklen=4,
                           tickwidth=1, tickcolor="black", showgrid=False)),
    yaxis7=axis(YC, [1, 5], "x7", dtick=1, tick0=0),
    xaxis8=axis(XC, [-0.8, 120.9], "y8", dtick=20, tick0=0),
    yaxis8=axis(YD, [620, 10000], "x8", tickvals=d_ticks, ticktext=[str(v) for v in d_ticks]),
)

# ======================= ANNOTATIONS =======================
ann = []


def text(x, y, s, size=FS, angle=0, xanchor="center", yanchor="middle"):
    ann.append(dict(x=px(x), y=py(y), xref="paper", yref="paper", text=s, showarrow=False,
                    textangle=angle, xanchor=xanchor, yanchor=yanchor,
                    font=dict(family=FONT, size=size, color="black")))


text(24, 27, "A", 31)
text(320, 28, "Jamming during migration", 28.5)
text(588, 28, "B", 27)
text(823, 28, "Aspect ratio-dependent migration", 25)
text(146, 1272, "C", 31)
text(596, 1272, "Relationship of aspect ratio and area during migration", 28.5)
text(146, 1612, "D", 31)
text(602, 1612, "Proliferation of non-migrating monolayers", 28.5)

text(60, 225, "Velocity / µm h<sup>−1</sup>", angle=-90)
text(33, 607, "Cell density / cells mm<sup>−2</sup>", angle=-90)
text(58, 998, "Aspect ratio", angle=-90)
text(318, 1228, "Time / h")
text(592, 225, "Probability density", angle=-90)
text(585, 607, "<i>MSD</i> at 30 min / µm<sup>2</sup>", angle=-90)
text(593, 998, "<i>MSD</i> exponent <i>n</i>", angle=-90)
text(822, 1228, "Aspect ratio")
text(259, 1403, "Aspect ratio", angle=-90)
text(603, 1562, "Area / µm<sup>2</sup>")
text(198, 1745, "Cell density / cells mm<sup>−2</sup>", angle=-90)
text(601, 1893, "Time / h")
text(557, 1929, "47", size=18, yanchor="bottom")

ann.append(dict(x=46.5, y=2714, ax=29.3, ay=2714, xref="x8", yref="y8", axref="x8", ayref="y8",
                text="", showarrow=True, arrowhead=2, arrowsize=1.2, arrowwidth=1.6,
                arrowcolor="black", standoff=0, startstandoff=0))
ann.append(dict(x=29.0, y=1941, xref="x8", yref="y8", text="Confluence", showarrow=False,
                xanchor="left", yanchor="middle", font=dict(family=FONT, size=22, color="black")))

shapes = [
    dict(type="rect", xref="x", yref="paper", x0=19, x1=21, y0=py(1170), y1=py(53),
         fillcolor="rgba(128,128,128,0.66)", line=dict(width=0), layer="above"),
    dict(type="line", xref="x", yref="paper", x0=20, x1=20, y0=py(1170), y1=py(53),
         line=dict(color="black", width=2, dash="8px,4px"), layer="above"),
    dict(type="line", xref="x8", yref="paper", x0=28, x1=28, y0=py(1849), y1=py(1643),
         line=dict(color="black", width=3, dash="13px,6px"), layer="above"),
]

leg_common = dict(xanchor="left", yanchor="top", bgcolor="rgba(255,255,255,0.8)",
                  bordercolor="#cccccc", borderwidth=1,
                  font=dict(family=FONT, size=FS, color="black"),
                  itemwidth=45, tracegroupgap=6)

fig.update_layout(
    template="none",
    width=W, height=H, margin=dict(l=0, r=0, t=0, b=0, pad=0, autoexpand=False),
    paper_bgcolor="white", plot_bgcolor="white",
    barmode="overlay", bargap=0, showlegend=True,
    font=dict(family=FONT, size=FS, color="black"),
    annotations=ann, shapes=shapes,
    legend=dict(x=px(138), y=py(447), **leg_common),
    legend2=dict(x=px(863), y=py(65), **leg_common),
    legend3=dict(x=px(863), y=py(447), **leg_common),
    **layout_axes,
)

fig.write_html("out.html")
